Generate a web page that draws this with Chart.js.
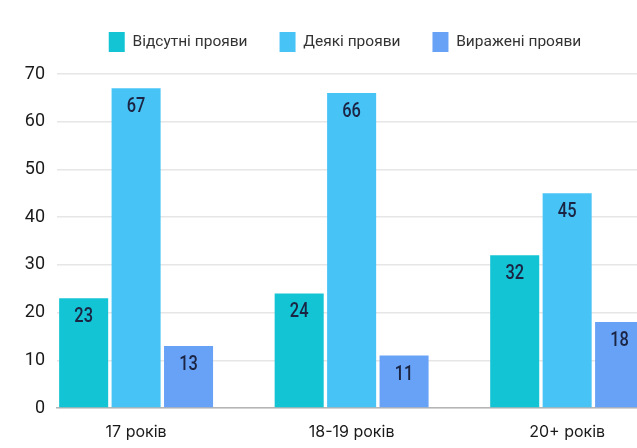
<!DOCTYPE html>
<html>
<head>
<meta charset="utf-8">
<script src="https://cdn.jsdelivr.net/npm/chart.js@4"></script>
<style>
  html, body { margin: 0; padding: 0; background: #fff; overflow: hidden; }
  #wrap { width: 696px; height: 448px; }
</style>
</head>
<body>
<div id="wrap"><canvas id="chart" width="696" height="448"></canvas></div>
<script>
// data
const categories = ['17 років', '18-19 років', '20+ років'];
const seriesNames = ['Відсутні прояви', 'Деякі прояви', 'Виражені прояви'];
const absent = [23, 24, 32];
const some = [67, 66, 45];
const strong = [13, 11, 18];
const yTicks = [0, 10, 20, 30, 40, 50, 60, 70];

const colors = ['#13c4d4', '#47c3f6', '#68a2f6'];

function toPoints(arr) {
  return arr.map(function (v, i) { return { x: i, y: v }; });
}

// values printed inside the top of each bar (narrowed a bit, like the original font)
const barLabels = {
  id: 'barLabels',
  afterDatasetsDraw(chart) {
    const ctx = chart.ctx;
    chart.data.datasets.forEach(function (ds, di) {
      const meta = chart.getDatasetMeta(di);
      meta.data.forEach(function (bar, i) {
        ctx.save();
        ctx.translate(bar.x, bar.y + 19);
        ctx.scale(0.82, 1);
        ctx.font = '500 20px Roboto, sans-serif';
        ctx.fillStyle = '#1b2442';
        ctx.textAlign = 'center';
        ctx.textBaseline = 'middle';
        ctx.fillText(String(ds.data[i].y), 0, 0);
        ctx.restore();
      });
    });
  }
};

// a bit more room between the legend and the plot
const legendGap = {
  id: 'legendGap',
  beforeUpdate(chart) {
    const lg = chart.legend;
    if (lg && !lg._gapPatched) {
      const fit = lg.fit;
      lg.fit = function () {
        fit.call(this);
        this.height += 12;
      };
      lg._gapPatched = true;
    }
  }
};

const ctx = document.getElementById('chart').getContext('2d');
new Chart(ctx, {
  type: 'bar',
  data: {
    datasets: [
      { label: seriesNames[0], data: toPoints(absent), backgroundColor: colors[0] },
      { label: seriesNames[1], data: toPoints(some), backgroundColor: colors[1] },
      { label: seriesNames[2], data: toPoints(strong), backgroundColor: colors[2] }
    ]
  },
  options: {
    responsive: false,
    animation: false,
    categoryPercentage: 0.73,
    barPercentage: 0.935,
    layout: { padding: { top: 0, right: 6, bottom: 0, left: 0 } },
    plugins: {
      legend: {
        position: 'top',
        labels: {
          boxWidth: 16,
          boxHeight: 20,
          padding: 32,
          color: '#333',
          font: { family: 'Roboto, sans-serif', size: 15.5 }
        }
      },
      tooltip: { enabled: false }
    },
    scales: {
      x: {
        type: 'linear',
        offset: false,
        min: -0.367,
        max: 2.57,
        afterBuildTicks: function (s) {
          s.ticks = categories.map(function (c, i) { return { value: i }; });
        },
        afterFit: function (s) { s.height = 40; },
        grid: { display: false, drawTicks: false },
        border: { display: true, color: '#b5b5b5', width: 1.5 },
        ticks: {
          padding: 15,
          maxRotation: 0,
          autoSkip: false,
          color: '#1a1a1a',
          font: { family: 'Inter, sans-serif', size: 16 },
          callback: function (v) { return categories[v]; }
        }
      },
      y: {
        min: yTicks[0],
        max: yTicks[yTicks.length - 1],
        afterBuildTicks: function (s) {
          s.ticks = yTicks.map(function (v) { return { value: v }; });
        },
        afterFit: function (s) { s.width = 57; },
        grid: { color: '#e6e6e6', lineWidth: 1.5, drawTicks: false },
        border: { display: false },
        ticks: {
          padding: 12,
          color: '#1a1a1a',
          font: { family: 'Roboto, sans-serif', size: 18 }
        }
      }
    }
  },
  plugins: [barLabels, legendGap]
});
</script>
</body>
</html>
